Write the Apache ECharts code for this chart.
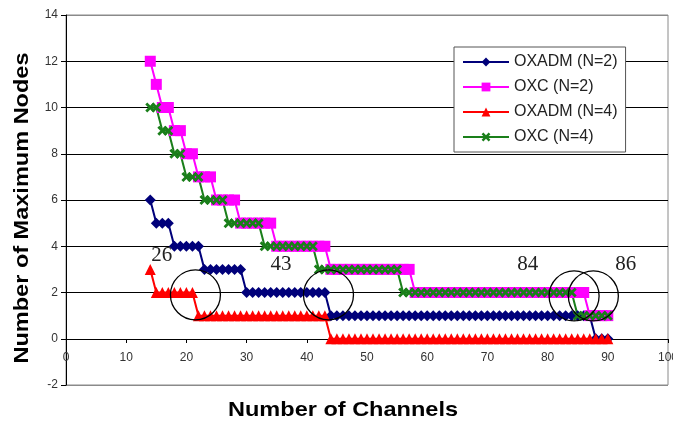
<!DOCTYPE html>
<html>
<head>
<meta charset="utf-8">
<script src="https://cdn.jsdelivr.net/npm/echarts@6/dist/echarts.min.js"></script>
<style>
html,body{margin:0;padding:0;background:#fff;}
#c{width:673px;height:426px;}
</style>
</head>
<body>
<div id="c"></div>
<script>
var channels = [14,15,16,17,18,19,20,21,22,23,24,25,26,27,28,29,30,31,32,33,34,35,36,37,38,39,40,41,42,43,44,45,46,47,48,49,50,51,52,53,54,55,56,57,58,59,60,61,62,63,64,65,66,67,68,69,70,71,72,73,74,75,76,77,78,79,80,81,82,83,84,85,86,87,88,89,90];
var oxadmN2 = [6,5,5,5,4,4,4,4,4,3,3,3,3,3,3,3,2,2,2,2,2,2,2,2,2,2,2,2,2,2,1,1,1,1,1,1,1,1,1,1,1,1,1,1,1,1,1,1,1,1,1,1,1,1,1,1,1,1,1,1,1,1,1,1,1,1,1,1,1,1,1,1,1,1,0,0,0];
var oxcN2   = [12,11,10,10,9,9,8,8,7,7,7,6,6,6,6,5,5,5,5,5,5,4,4,4,4,4,4,4,4,4,3,3,3,3,3,3,3,3,3,3,3,3,3,3,2,2,2,2,2,2,2,2,2,2,2,2,2,2,2,2,2,2,2,2,2,2,2,2,2,2,2,2,2,1,1,1,1];
var oxadmN4 = [3,2,2,2,2,2,2,2,1,1,1,1,1,1,1,1,1,1,1,1,1,1,1,1,1,1,1,1,1,1,0,0,0,0,0,0,0,0,0,0,0,0,0,0,0,0,0,0,0,0,0,0,0,0,0,0,0,0,0,0,0,0,0,0,0,0,0,0,0,0,0,0,0,0,0,0,0];
var oxcN4   = [10,10,9,9,8,8,7,7,7,6,6,6,6,5,5,5,5,5,5,4,4,4,4,4,4,4,4,4,3,3,3,3,3,3,3,3,3,3,3,3,3,3,2,2,2,2,2,2,2,2,2,2,2,2,2,2,2,2,2,2,2,2,2,2,2,2,2,2,2,2,2,1,1,1,1,1,1];
var seriesNames = ['OXADM (N=2)','OXC (N=2)','OXADM (N=4)','OXC (N=4)'];
var xTicks = [0,10,20,30,40,50,60,70,80,90,100];
var yTicks = [-2,0,2,4,6,8,10,12,14];
// annotations (data coords)
var noteLabels = ['26','43','84','86'];
var noteX = [15.9, 35.7, 76.7, 93.0];
var noteY = [3.6, 3.2, 3.2, 3.2];
var circleX = [21.5, 43.6, 84.4, 87.6];
var circleY = [1.9, 1.9, 1.85, 1.85];

function pairs(vals){ return channels.map(function(c,i){ return [c, vals[i]]; }); }
var crossPath = 'path://M0,2L2,0L5,3L8,0L10,2L7,5L10,8L8,10L5,7L2,10L0,8L3,5Z';

var chart = echarts.init(document.getElementById('c'));
var splitColors = yTicks.map(function(v){ return (v===14||v===-2) ? '#8a8a8a' : '#000'; });
var option = {
  animation:false,
  grid:{left:66,right:5,top:15,bottom:41,show:true,borderColor:'#8a8a8a',borderWidth:1,backgroundColor:'#fff',containLabel:false,outerBoundsMode:'none'},
  xAxis:{type:'value',min:xTicks[0],max:xTicks[xTicks.length-1],interval:10,offset:-46,
    axisLine:{onZero:false,lineStyle:{color:'#000',width:1}},
    axisTick:{show:true,length:4,lineStyle:{color:'#000'}},
    axisLabel:{color:'#333',fontFamily:'Liberation Sans, Arial',fontSize:12,margin:13,hideOverlap:false},
    splitLine:{show:false}},
  yAxis:{type:'value',min:yTicks[0],max:yTicks[yTicks.length-1],interval:2,
    axisLine:{show:true,onZero:false,lineStyle:{color:'#000',width:1}},
    axisTick:{show:true,length:5,lineStyle:{color:'#000'}},
    axisLabel:{color:'#333',fontFamily:'Liberation Sans, Arial',fontSize:12,margin:8},
    splitLine:{show:true,lineStyle:{color:splitColors,width:1}}},
  legend:{orient:'vertical',left:454,top:47,padding:[6,8,6,8],itemWidth:46,itemHeight:11,itemGap:7,
    backgroundColor:'#fff',borderColor:'#555',borderWidth:1,borderRadius:0,
    textStyle:{color:'#222',fontFamily:'Liberation Sans, Arial',fontSize:16,lineHeight:18},
    data:seriesNames},
  series:[
    {name:seriesNames[0],type:'line',data:pairs(oxadmN2),symbol:'diamond',symbolSize:11,
      lineStyle:{color:'#00007a',width:2},itemStyle:{color:'#00007a'}},
    {name:seriesNames[1],type:'line',data:pairs(oxcN2),symbol:'rect',symbolSize:11,
      lineStyle:{color:'#ff00ff',width:2},itemStyle:{color:'#ff00ff'}},
    {name:seriesNames[2],type:'line',data:pairs(oxadmN4),symbol:'triangle',symbolSize:11,
      lineStyle:{color:'#ff0000',width:2},itemStyle:{color:'#ff0000'}},
    {name:seriesNames[3],type:'line',data:pairs(oxcN4),symbol:crossPath,symbolSize:10,
      lineStyle:{color:'#1a7f1a',width:2},itemStyle:{color:'#1a7f1a'}}
  ]
};
chart.setOption(option);

var g = [];
for (var i=0;i<noteLabels.length;i++){
  var p = chart.convertToPixel({gridIndex:0},[noteX[i],noteY[i]]);
  g.push({type:'text',x:p[0],y:p[1],z:10,style:{text:noteLabels[i],fill:'#222',font:'21px "Liberation Serif", "Times New Roman", serif',align:'center',verticalAlign:'middle'}});
}
for (var j=0;j<circleX.length;j++){
  var q = chart.convertToPixel({gridIndex:0},[circleX[j],circleY[j]]);
  g.push({type:'circle',z:10,shape:{cx:q[0],cy:q[1],r:25},style:{fill:null,stroke:'#000',lineWidth:1.3}});
}
g.push({type:'text',x:343,y:410,scaleX:1.12,z:10,style:{text:'Number of Channels',fill:'#000',font:'bold 21px "Liberation Sans", Arial, sans-serif',align:'center',verticalAlign:'middle'}});
g.push({type:'text',x:22,y:208,rotation:Math.PI/2,scaleX:1.12,z:10,style:{text:'Number of Maximum Nodes',fill:'#000',font:'bold 21px "Liberation Sans", Arial, sans-serif',align:'center',verticalAlign:'middle'}});
chart.setOption({graphic:g});
</script>
</body>
</html>
